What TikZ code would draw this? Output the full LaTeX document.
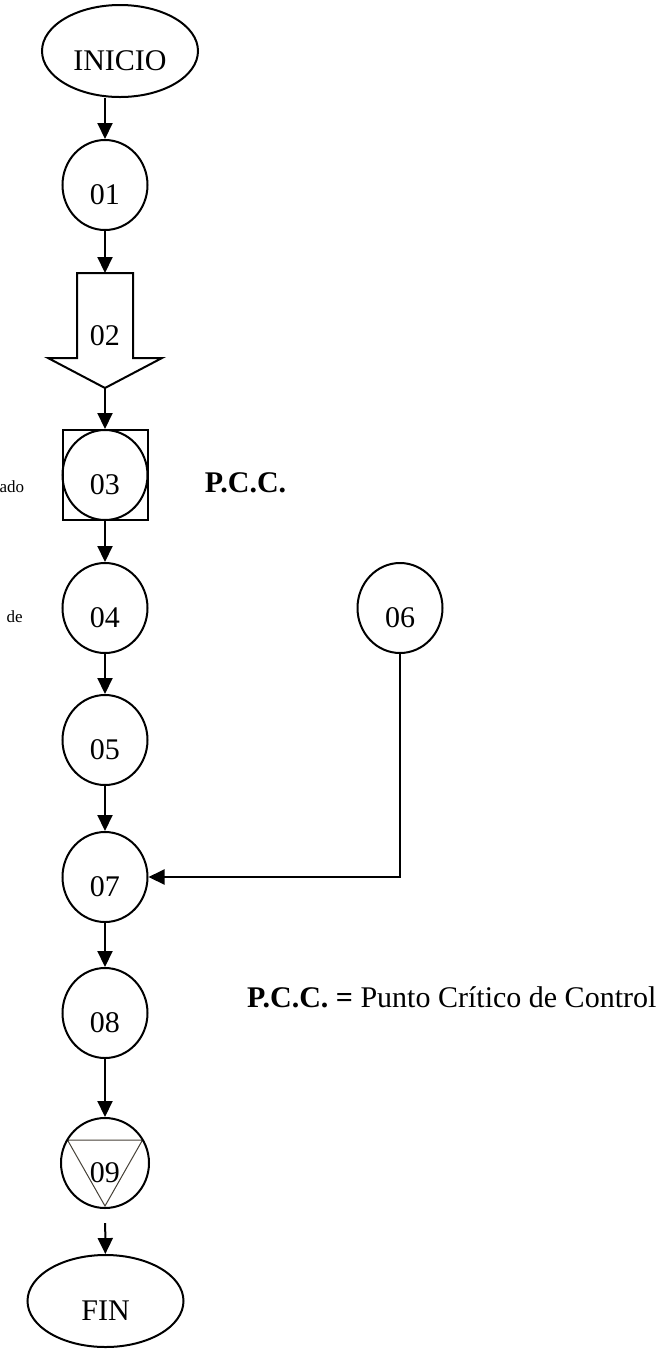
\documentclass[tikz,border=0pt]{standalone}
\usepackage{fontspec}
\setmainfont{Liberation Serif}
\usetikzlibrary{arrows.meta,shapes.geometric}

\begin{document}
\begin{tikzpicture}[x=0.5pt,y=-0.5pt,font=\fontsize{15}{18}\selectfont,
	trazo/.style={line width=1pt},
	flecha/.style={trazo,-{Triangle[length=8pt,width=7.5pt]}},
	etapa/.style={trazo,draw,ellipse,minimum width=42.5pt,minimum height=45pt,inner sep=0pt,text height=19pt,text depth=0pt},
	terminal/.style={etapa,minimum width=78pt,minimum height=46pt},
	nota/.style={font=\fontsize{8.5}{10}\selectfont,anchor=east,inner sep=0pt}] % diagrama de flujo del proceso

\useasboundingbox (0,0) rectangle (667,1351);

\node[terminal] (inicio) at (120,51) {INICIO};
\node[etapa] (n01) at (105,185) {01};

% flecha de transporte 02
\coordinate (f02top) at (105,273);
\coordinate (f02tip) at (105,388);
\draw[trazo] (77,273) -- (133,273) -- (133,358) -- (162,358) -- (f02tip) -- (48,358) -- (77,358) -- cycle;
\node (n02) at (105,336) {02};

% operacion combinada 03
\node[trazo,draw,rectangle,minimum width=42.5pt,minimum height=45pt] (b03) at (105,475) {};
\node[etapa] (n03) at (105,475) {03};
\node[nota] (t03) at (24.5,487) {ado};
\node[font=\fontsize{15}{18}\selectfont\bfseries] (pcc) at (245.5,483) {P.C.C.};

\node[etapa] (n04) at (105,608) {04};
\node[nota] (t04) at (23,617) {de};
\node[etapa] (n06) at (400,608) {06};
\node[etapa] (n05) at (105,740) {05};
\node[etapa] (n07) at (105,877) {07};
\node[etapa] (n08) at (105,1013) {08};

% almacenamiento 09
\draw[line width=0.5pt,color={rgb,255:red,70;green,65;blue,55}] (67.5,1140) -- (142.5,1140) -- (105,1206) -- cycle;
\node[etapa,minimum width=44pt] (n09) at (105,1163) {09};
\node[terminal] (fin) at (105.5,1301) {FIN};

\node[anchor=west] (leyenda) at (240,997) {\textbf{P.C.C. =} Punto Crítico de Control};

\draw[flecha] (n01 |- inicio.south) -- (n01);
\draw[flecha] (n01) -- (f02top);
\draw[flecha] (f02tip) -- (b03);
\foreach \a/\b in {b03/n04,n04/n05,n05/n07,n07/n08,n08/n09} % cadena vertical
{
	\draw[flecha] (\a) -- (\b);
}
\draw[flecha] (n06) |- (n07);
\draw[flecha,shorten <=7pt] (n09) -- (fin);

\end{tikzpicture}
\end{document}
